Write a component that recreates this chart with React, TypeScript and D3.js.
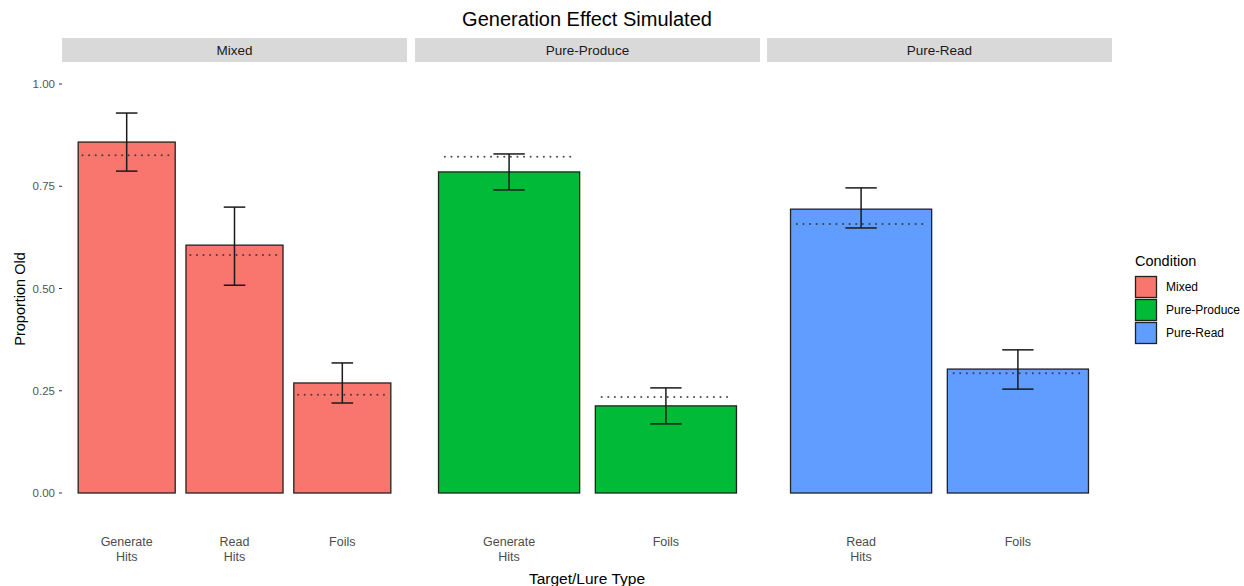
import React from 'react';
import * as d3 from 'd3';

const panels = ['Mixed', 'Pure-Produce', 'Pure-Read'];
const categories = [
  ['Generate\nHits', 'Read\nHits', 'Foils'],
  ['Generate\nHits', 'Foils'],
  ['Read\nHits', 'Foils'],
];
const means = [
  [0.858, 0.606, 0.269],
  [0.785, 0.213],
  [0.694, 0.303],
];
const lower = [
  [0.787, 0.508, 0.22],
  [0.741, 0.169],
  [0.648, 0.254],
];
const upper = [
  [0.929, 0.699, 0.318],
  [0.829, 0.257],
  [0.746, 0.35],
];
const expected = [
  [0.826, 0.582, 0.24],
  [0.822, 0.235],
  [0.658, 0.293],
];
const yTicks = [0, 0.25, 0.5, 0.75, 1];
const colors = ['#F8766D', '#00BA38', '#619CFF'];

const W = 1244;
const H = 586;
const font = '"Liberation Sans", Arial, sans-serif';

const panelLeft = [62, 415, 767];
const panelWidth = 345;

const App = () => {
  const y = d3.scaleLinear().domain([0, 1]).range([493, 84]);

  return (
    <svg width={W} height={H} style={{ position: 'absolute', left: 0, top: 0 }} fontFamily={font}>
      <rect width={W} height={H} fill="#fff" />
      <text x={587} y={26} textAnchor="middle" fontSize={20} fill="#000">
        Generation Effect Simulated
      </text>

      {/* y axis */}
      {yTicks.map((t) => (
        <g key={t}>
          <line x1={59} x2={62} y1={y(t)} y2={y(t)} stroke="#333" strokeWidth={1} />
          <text x={55} y={y(t)} dy="0.35em" textAnchor="end" fontSize={11.5} fill="#555555">
            {d3.format('.2f')(t)}
          </text>
        </g>
      ))}
      <text transform="translate(25,299) rotate(-90)" textAnchor="middle" fontSize={14.5} fill="#000">
        Proportion Old
      </text>

      {panels.map((p, i) => {
        const cats = categories[i];
        const x = d3
          .scaleLinear()
          .domain([1 - 0.6, cats.length + 0.6])
          .range([panelLeft[i], panelLeft[i] + panelWidth]);
        const unit = x(2) - x(1);
        const bw = unit * 0.9;
        const cap = unit * 0.1;
        return (
          <g key={p}>
            <rect x={panelLeft[i]} y={38} width={panelWidth} height={24} fill="#d9d9d9" />
            <text x={panelLeft[i] + panelWidth / 2} y={50} dy="0.35em" textAnchor="middle" fontSize={13.5} fill="#1a1a1a">
              {p}
            </text>
            {cats.map((c, j) => {
              const cx = x(j + 1);
              return (
                <g key={c + j}>
                  <rect
                    x={cx - bw / 2}
                    y={y(means[i][j])}
                    width={bw}
                    height={y(0) - y(means[i][j])}
                    fill={colors[i]}
                    stroke="#222"
                    strokeWidth={1.3}
                  />
                  <line
                    x1={cx - unit * 0.41}
                    x2={cx + unit * 0.43}
                    y1={y(expected[i][j])}
                    y2={y(expected[i][j])}
                    stroke="#333"
                    strokeOpacity={0.85}
                    strokeWidth={2}
                    strokeDasharray="0.1 6.5"
                    strokeLinecap="round"
                  />
                  <g stroke="#1a1a1a" strokeWidth={1.5}>
                    <line x1={cx} x2={cx} y1={y(upper[i][j])} y2={y(lower[i][j])} />
                    <line x1={cx - cap} x2={cx + cap} y1={y(upper[i][j])} y2={y(upper[i][j])} />
                    <line x1={cx - cap} x2={cx + cap} y1={y(lower[i][j])} y2={y(lower[i][j])} />
                  </g>
                  <text textAnchor="middle" fontSize={12.5} fill="#4d4d4d">
                    {c.split('\n').map((ln, k) => (
                      <tspan key={k} x={cx} y={546 + k * 15}>
                        {ln}
                      </tspan>
                    ))}
                  </text>
                </g>
              );
            })}
          </g>
        );
      })}

      <text x={587} y={584} textAnchor="middle" fontSize={15.5} fill="#000">
        Target/Lure Type
      </text>

      {/* legend */}
      <text x={1135} y={266} fontSize={14.5} fill="#000">
        Condition
      </text>
      {panels.map((p, i) => (
        <g key={p} transform={`translate(1135,${276 + i * 23})`}>
          <rect x={0.5} y={0.5} width={21} height={21} fill={colors[i]} stroke="#222" strokeWidth={1.3} />
          <text x={31} y={11} dy="0.35em" fontSize={12} fill="#000">
            {p}
          </text>
        </g>
      ))}
    </svg>
  );
};

export default App;
